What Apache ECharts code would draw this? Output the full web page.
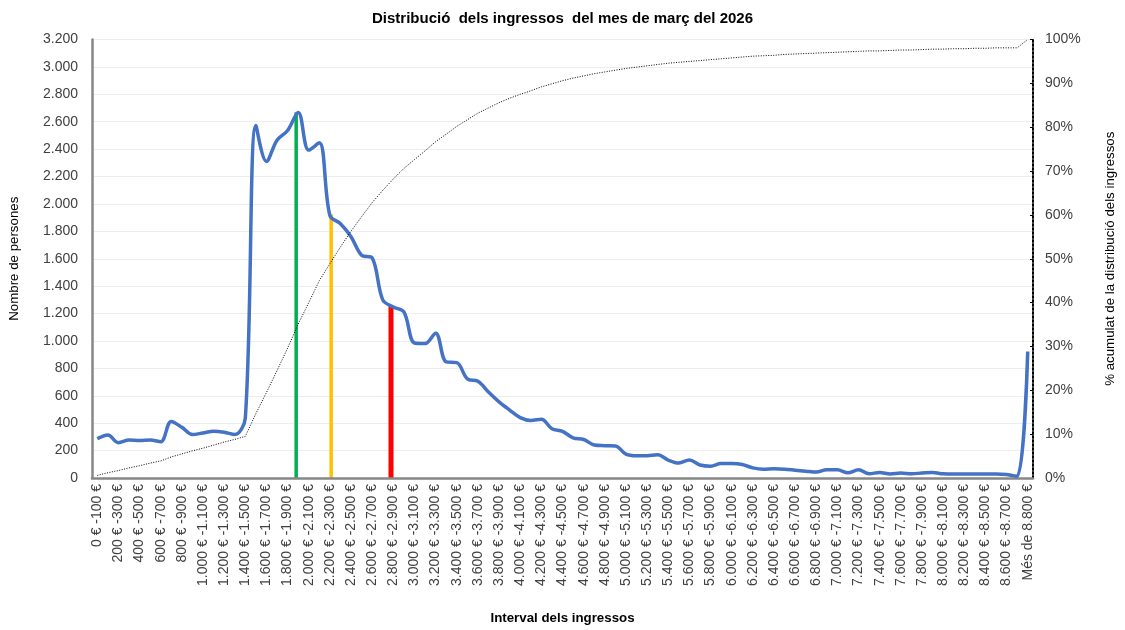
<!DOCTYPE html>
<html>
<head>
<meta charset="utf-8">
<script src="https://cdn.jsdelivr.net/npm/echarts@6/dist/echarts.min.js"></script>
<style>
html,body{margin:0;padding:0;background:#fff;}
#chart{width:1125px;height:630px;}
</style>
</head>
<body>
<div id="chart"></div>
<script>
const categories = [
"0 € -100 €","100 € -200 €","200 € -300 €","300 € -400 €","400 € -500 €","500 € -600 €","600 € -700 €","700 € -800 €","800 € -900 €","900 € -1.000 €",
"1.000 € -1.100 €","1.100 € -1.200 €","1.200 € -1.300 €","1.300 € -1.400 €","1.400 € -1.500 €","1.500 € -1.600 €","1.600 € -1.700 €","1.700 € -1.800 €","1.800 € -1.900 €","1.900 € -2.000 €",
"2.000 € -2.100 €","2.100 € -2.200 €","2.200 € -2.300 €","2.300 € -2.400 €","2.400 € -2.500 €","2.500 € -2.600 €","2.600 € -2.700 €","2.700 € -2.800 €","2.800 € -2.900 €","2.900 € -3.000 €",
"3.000 € -3.100 €","3.100 € -3.200 €","3.200 € -3.300 €","3.300 € -3.400 €","3.400 € -3.500 €","3.500 € -3.600 €","3.600 € -3.700 €","3.700 € -3.800 €","3.800 € -3.900 €","3.900 € -4.000 €",
"4.000 € -4.100 €","4.100 € -4.200 €","4.200 € -4.300 €","4.300 € -4.400 €","4.400 € -4.500 €","4.500 € -4.600 €","4.600 € -4.700 €","4.700 € -4.800 €","4.800 € -4.900 €","4.900 € -5.000 €",
"5.000 € -5.100 €","5.100 € -5.200 €","5.200 € -5.300 €","5.300 € -5.400 €","5.400 € -5.500 €","5.500 € -5.600 €","5.600 € -5.700 €","5.700 € -5.800 €","5.800 € -5.900 €","5.900 € -6.000 €",
"6.000 € -6.100 €","6.100 € -6.200 €","6.200 € -6.300 €","6.300 € -6.400 €","6.400 € -6.500 €","6.500 € -6.600 €","6.600 € -6.700 €","6.700 € -6.800 €","6.800 € -6.900 €","6.900 € -7.000 €",
"7.000 € -7.100 €","7.100 € -7.200 €","7.200 € -7.300 €","7.300 € -7.400 €","7.400 € -7.500 €","7.500 € -7.600 €","7.600 € -7.700 €","7.700 € -7.800 €","7.800 € -7.900 €","7.900 € -8.000 €",
"8.000 € -8.100 €","8.100 € -8.200 €","8.200 € -8.300 €","8.300 € -8.400 €","8.400 € -8.500 €","8.500 € -8.600 €","8.600 € -8.700 €","8.700 € -8.800 €","Més de 8.800 €"
];

// Nombre de persones per interval
const persones = [
286,313,258,277,274,277,265,413,370,317,
329,341,334,317,437,2572,2310,2465,2536,2668,
2393,2446,1916,1856,1761,1625,1606,1300,1248,1212,
985,981,1057,847,842,723,706,628,556,496,
441,420,429,360,341,293,281,241,236,234,
174,162,163,170,131,110,131,95,86,105,
105,98,74,64,67,64,57,50,43,60,
60,38,60,31,40,29,36,31,36,40,
31,29,29,29,29,29,26,12,923
];

// % acumulat de la distribució dels ingressos
const acumulat = [
0.6,1.2,1.7,2.3,2.8,3.4,3.9,4.8,5.5,6.2,
6.8,7.5,8.2,8.8,9.5,14.7,19.5,24.5,29.6,35.1,
40.0,45.0,48.9,52.7,56.3,59.6,62.8,65.6,68.2,70.6,
72.6,74.6,76.7,78.4,80.2,81.7,83.2,84.4,85.6,86.6,
87.5,88.3,89.2,89.9,90.6,91.2,91.7,92.2,92.6,93.0,
93.4,93.7,94.0,94.3,94.6,94.8,95.0,95.2,95.4,95.6,
95.8,96.0,96.2,96.3,96.4,96.6,96.7,96.8,96.9,97.0,
97.1,97.2,97.3,97.4,97.4,97.5,97.6,97.6,97.7,97.8,
97.8,97.9,97.9,98.0,98.0,98.1,98.1,98.1,100
];

// Línies verticals (posició en euros i alçada)
const marcadorsEuros = [1931, 2262, 2828];
const marcadorsAltura = [2670, 1925, 1260];
const marcadorsColors = ['#00B050', '#FFC000', '#FF0000'];
const marcadorsGruix = [3.5, 3.5, 5];

const yTicksLeft = {min: 0, max: 3200, interval: 200};
const yTicksRight = {min: 0, max: 100, interval: 10};

const FONT = 'Liberation Sans, Arial, sans-serif';
const fmtMiles = v => String(v).replace(/\B(?=(\d{3})+(?!\d))/g, '.');

const chart = echarts.init(document.getElementById('chart'), null, {renderer: 'canvas'});

const markerSeries = marcadorsEuros.map((x, k) => ({
  type: 'line',
  xAxisIndex: 1,
  yAxisIndex: 0,
  data: [[x, 0], [x, marcadorsAltura[k]]],
  symbol: 'none',
  lineStyle: {color: marcadorsColors[k], width: marcadorsGruix[k]},
  z: 2,
  silent: true,
  animation: false
}));

const option = {
  animation: false,
  backgroundColor: '#ffffff',
  textStyle: {fontFamily: FONT},
  title: {
    text: 'Distribució  dels ingressos  del mes de març del 2026',
    left: 'center',
    top: 6,
    textStyle: {fontFamily: FONT, fontSize: 15, fontWeight: 'bold', color: '#000'}
  },
  grid: {left: 91, right: 85, top: 39.5, bottom: 144, containLabel: false},
  xAxis: [{
    type: 'category',
    data: categories,
    boundaryGap: true,
    name: 'Interval dels ingressos',
    nameLocation: 'middle',
    nameGap: 134,
    nameTextStyle: {fontFamily: FONT, fontSize: 13.3, fontWeight: 'bold', color: '#000'},
    axisLine: {show: true, lineStyle: {color: '#878787', width: 2.5}},
    axisTick: {show: false},
    axisLabel: {interval: 1, rotate: 90, margin: 6, fontFamily: FONT, fontSize: 14, color: '#404040', hideOverlap: false},
    splitLine: {show: false},
    z: 3
  }, {
    type: 'value',
    min: 0,
    max: 8900,
    show: false
  }],
  yAxis: [{
    type: 'value',
    min: yTicksLeft.min,
    max: yTicksLeft.max,
    interval: yTicksLeft.interval,
    name: 'Nombre de persones',
    nameLocation: 'middle',
    nameGap: 71,
    nameRotate: 90,
    nameTextStyle: {fontFamily: FONT, fontSize: 13.3, color: '#000'},
    axisLine: {show: true, lineStyle: {color: '#878787', width: 2.5}},
    axisTick: {show: false},
    axisLabel: {margin: 14, fontFamily: FONT, fontSize: 14, color: '#404040', formatter: fmtMiles},
    splitLine: {show: true, lineStyle: {color: '#ededed', width: 1}}
  }, {
    type: 'value',
    position: 'right',
    min: yTicksRight.min,
    max: yTicksRight.max,
    interval: yTicksRight.interval,
    name: '% acumulat de la distribució dels ingressos',
    nameLocation: 'middle',
    nameGap: 71,
    nameRotate: 90,
    nameTextStyle: {fontFamily: FONT, fontSize: 13.3, color: '#000'},
    axisLine: {show: true, lineStyle: {color: '#000', width: 2, type: [2, 2]}},
    axisTick: {show: true, inside: true, length: 3, lineStyle: {color: '#000', width: 1}},
    axisLabel: {margin: 12, fontFamily: FONT, fontSize: 14, color: '#404040', formatter: v => v + '%'},
    splitLine: {show: false}
  }],
  series: [
    ...markerSeries,
    {
      name: 'Nombre de persones',
      type: 'line',
      xAxisIndex: 0,
      yAxisIndex: 0,
      data: persones,
      smooth: 0.35,
      symbol: 'none',
      lineStyle: {color: '#4472C4', width: 3.5},
      z: 3
    },
    {
      name: '% acumulat',
      type: 'line',
      xAxisIndex: 0,
      yAxisIndex: 1,
      data: acumulat,
      smooth: false,
      symbol: 'none',
      lineStyle: {color: '#000', width: 1, type: [1, 1.5]},
      z: 4
    }
  ]
};
chart.setOption(option);
</script>
</body>
</html>
